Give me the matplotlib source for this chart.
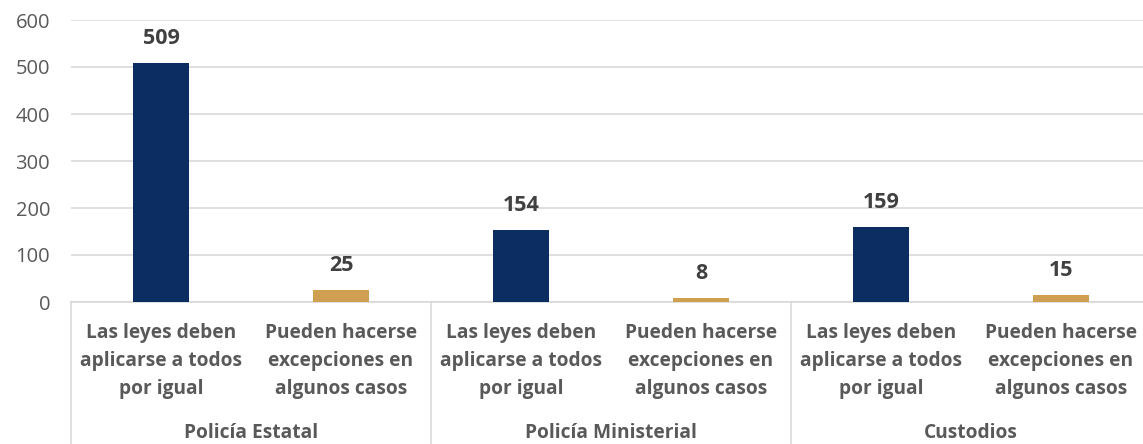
import matplotlib.pyplot as plt
from matplotlib.transforms import blended_transform_factory

groups = ["Policía Estatal", "Policía Ministerial", "Custodios"]
answers = ["Las leyes deben\naplicarse a todos\npor igual",
           "Pueden hacerse\nexcepciones en\nalgunos casos"]
igual = [509, 154, 159]
excepciones = [25, 8, 15]

navy = "#0b2d62"
gold = "#cf9f52"
grid_c = "#d9d9d9"
label_c = "#595959"

plt.rcParams['font.family'] = ['Open Sans', 'DejaVu Sans']

fig = plt.figure(figsize=(11.43, 4.44), dpi=100)
ax = fig.add_axes([71 / 1143, 142 / 444, 1080 / 1143, 282 / 444])

values = []
colors = []
for a, b in zip(igual, excepciones):
    values += [a, b]
    colors += [navy, gold]
xs = [i + 0.5 for i in range(len(values))]

ax.bar(xs, values, width=0.31, color=colors, zorder=3)
for x, v in zip(xs, values):
    ax.annotate(str(v), (x, v), xytext=(0, 10), textcoords="offset points",
                ha="center", va="bottom", fontsize=15.5, fontweight="bold",
                color="#404040")

ax.set_xlim(0, len(values))
ax.set_ylim(0, 600)
ax.set_yticks(range(0, 601, 100))
ax.yaxis.grid(True, color=grid_c, linewidth=1.2, zorder=0)
ax.tick_params(axis="y", length=0, labelsize=14.5, labelcolor=label_c, pad=15)
ax.set_xticks([])
for s in ["top", "right", "left"]:
    ax.spines[s].set_visible(False)
ax.spines["bottom"].set_color(grid_c)
ax.spines["bottom"].set_linewidth(1.2)

# multi-level category axis
tr = blended_transform_factory(ax.transData, fig.transFigure)
for g in range(len(groups) + 1):
    ax.plot([2 * g, 2 * g], [142 / 444, 0], color=grid_c, lw=1.2,
            transform=tr, clip_on=False)
for i, x in enumerate(xs):
    ax.text(x, 83 / 444, answers[i % 2], transform=tr, ha="center",
            va="center", fontsize=13.8, fontweight="bold", color=label_c,
            linespacing=1.55)
for g, name in enumerate(groups):
    ax.text(2 * g + 1, 11 / 444, name, transform=tr, ha="center",
            va="center", fontsize=13.8, fontweight="bold", color=label_c)

fig.savefig("out.png", dpi=100)
